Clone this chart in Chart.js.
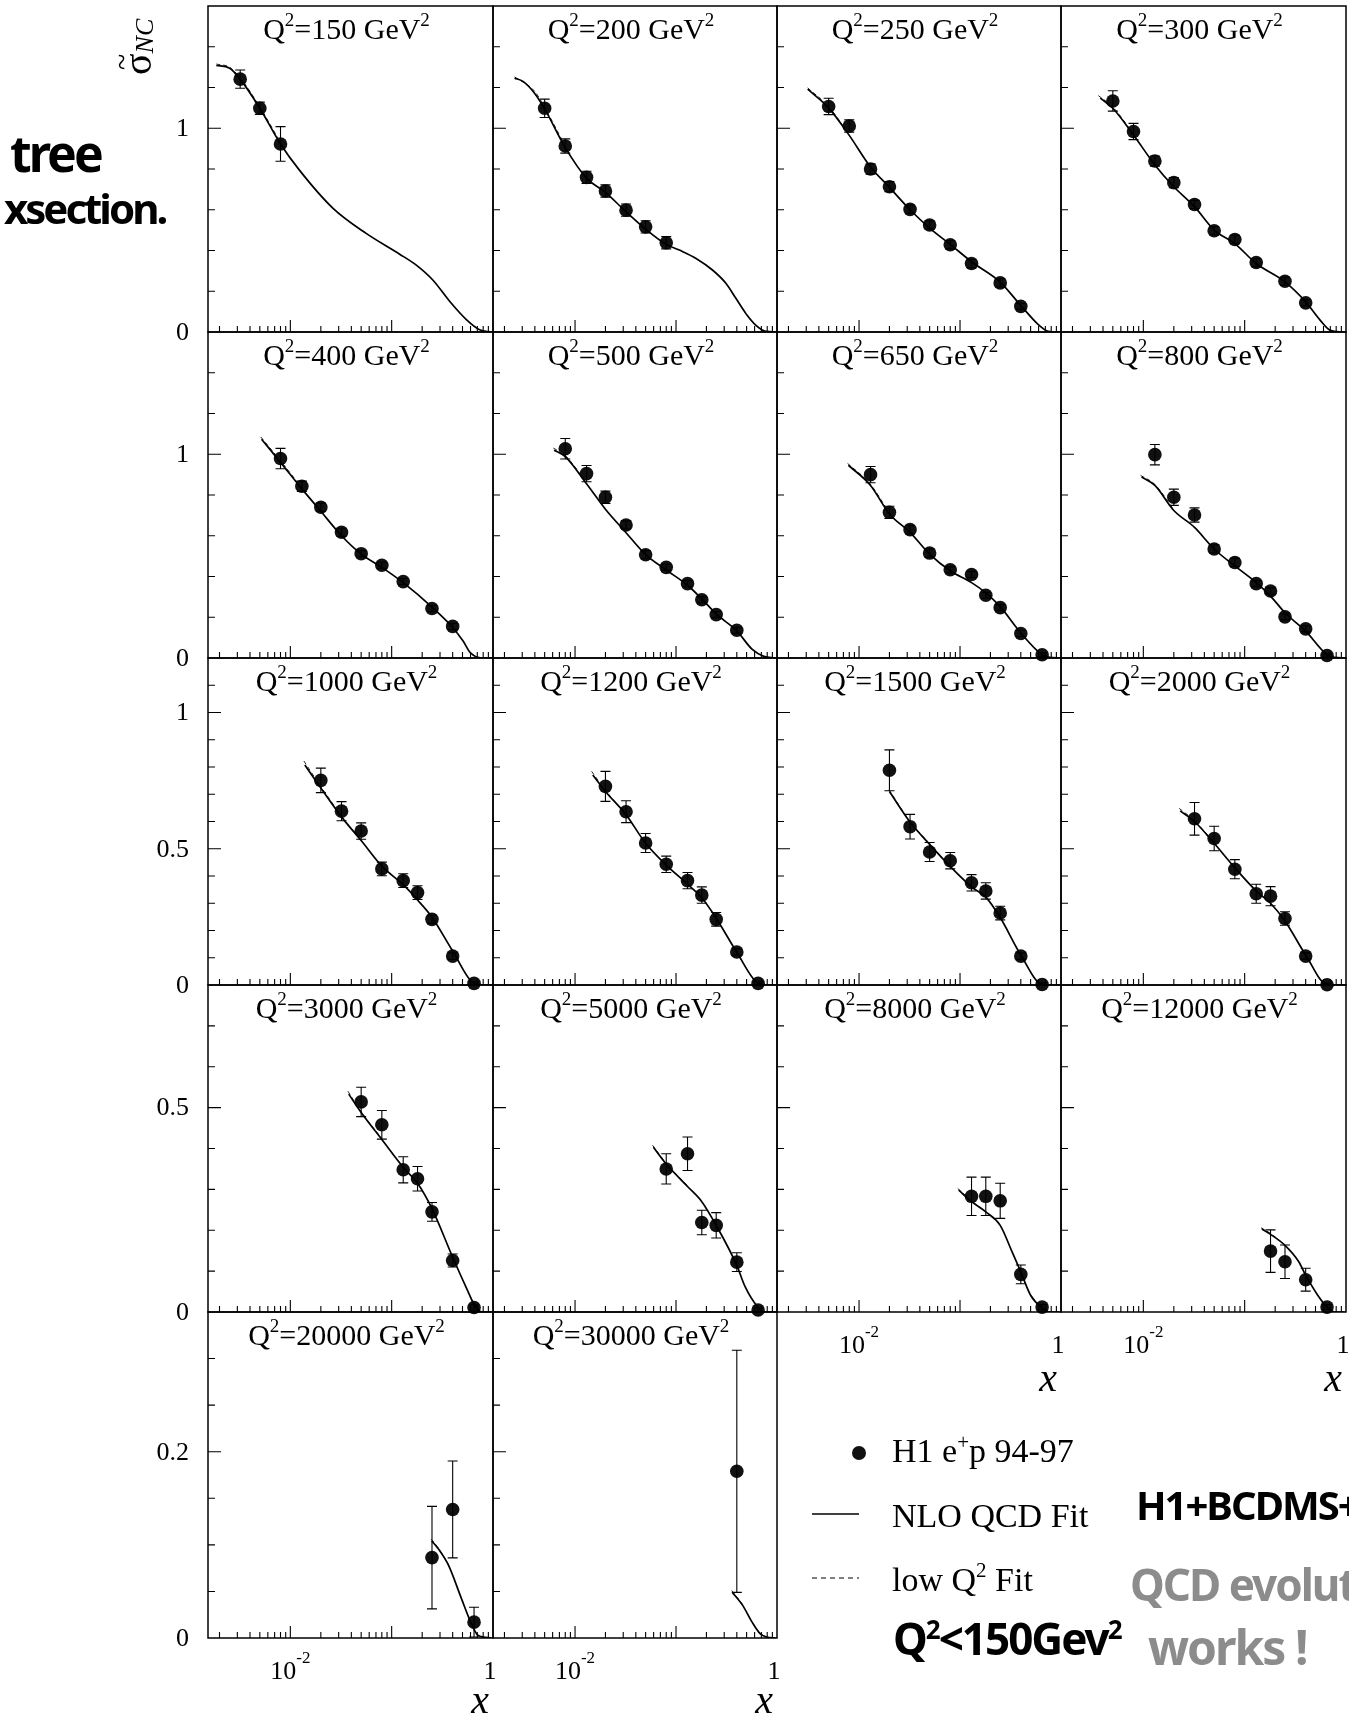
<!DOCTYPE html>
<html><head><meta charset="utf-8">
<script src="https://cdn.jsdelivr.net/npm/chart.js"></script>
<style>
html,body{margin:0;padding:0;background:#fff;overflow:hidden;}
#page{position:relative;width:1349px;height:1716px;overflow:hidden;background:#fff;}
#page canvas{position:absolute;}
#notes{position:absolute;left:0;top:0;}
</style></head>
<body><div id="page"></div>
<script>
// ---------------- DATA ----------------
const Q2_VALUES = ['150','200','250','300','400','500','650','800','1000','1200','1500','2000','3000','5000','8000','12000','20000','30000'];

// H1 e+p 94-97 points: x, reduced cross section, total error
const h1x_150 = [0.0032, 0.005, 0.008];
const h1y_150 = [1.241, 1.098, 0.923];
const h1e_150 = [0.045, 0.03, 0.085];
const fitx_150 = [0.00186, 0.00252, 0.0032, 0.005, 0.008, 0.0124, 0.0264, 0.056, 0.12, 0.175, 0.256, 0.373, 0.546, 0.738, 0.964];
const fity_150 = [1.308, 1.295, 1.241, 1.098, 0.923, 0.792, 0.607, 0.484, 0.382, 0.328, 0.254, 0.151, 0.061, 0.011, 0.0];
const lowx_150 = [0.00186, 0.0025, 0.0032, 0.005, 0.008];
const lowy_150 = [1.315, 1.30, 1.248, 1.104, 0.93];

const h1x_200 = [0.005, 0.008, 0.013, 0.02, 0.032, 0.05, 0.08];
const h1y_200 = [1.098, 0.913, 0.759, 0.692, 0.598, 0.516, 0.438];
const h1e_200 = [0.045, 0.035, 0.03, 0.03, 0.03, 0.03, 0.03];
const fitx_200 = [0.00252, 0.00305, 0.00397, 0.005, 0.008, 0.013, 0.02, 0.032, 0.05, 0.08, 0.108, 0.158, 0.231, 0.313, 0.393, 0.493, 0.619, 0.778, 0.977];
const fity_200 = [1.246, 1.23, 1.172, 1.095, 0.905, 0.755, 0.685, 0.59, 0.505, 0.43, 0.402, 0.361, 0.303, 0.238, 0.164, 0.09, 0.033, 0.003, 0.0];
const lowx_200 = [0.00252, 0.004, 0.005, 0.008];
const lowy_200 = [1.252, 1.18, 1.102, 0.912];

const h1x_250 = [0.005, 0.008, 0.013, 0.02, 0.032, 0.05, 0.08, 0.13, 0.25, 0.40];
const h1y_250 = [1.107, 1.011, 0.80, 0.713, 0.602, 0.525, 0.428, 0.336, 0.241, 0.126];
const h1e_250 = [0.04, 0.03, 0.025, 0.025, 0.02, 0.02, 0.02, 0.02, 0.02, 0.015];
const fitx_250 = [0.0031, 0.005, 0.008, 0.013, 0.02, 0.032, 0.05, 0.08, 0.13, 0.25, 0.40, 0.60, 0.75, 0.97];
const fity_250 = [1.192, 1.10, 0.965, 0.81, 0.71, 0.60, 0.51, 0.43, 0.345, 0.245, 0.13, 0.035, 0.003, 0.0];
const lowx_250 = [0.0031, 0.005, 0.008];
const lowy_250 = [1.198, 1.106, 0.97];

const h1x_300 = [0.005, 0.008, 0.013, 0.02, 0.032, 0.05, 0.08, 0.13, 0.25, 0.40];
const h1y_300 = [1.134, 0.984, 0.839, 0.733, 0.626, 0.497, 0.454, 0.341, 0.249, 0.143];
const h1e_300 = [0.05, 0.04, 0.025, 0.025, 0.02, 0.02, 0.02, 0.02, 0.02, 0.015];
const fitx_300 = [0.00376, 0.005, 0.008, 0.013, 0.02, 0.032, 0.05, 0.08, 0.13, 0.25, 0.40, 0.558, 0.70, 0.93];
const fity_300 = [1.148, 1.098, 0.967, 0.82, 0.713, 0.615, 0.50, 0.434, 0.336, 0.246, 0.148, 0.057, 0.008, 0.0];
const lowx_300 = [0.0036, 0.005, 0.008];
const lowy_300 = [1.16, 1.104, 0.972];

const h1x_400 = [0.008, 0.013, 0.02, 0.032, 0.05, 0.08, 0.13, 0.25, 0.40];
const h1y_400 = [0.979, 0.843, 0.740, 0.617, 0.512, 0.455, 0.375, 0.243, 0.155];
const h1e_400 = [0.05, 0.025, 0.02, 0.02, 0.015, 0.015, 0.015, 0.015, 0.015];
const fitx_400 = [0.0052, 0.008, 0.013, 0.02, 0.032, 0.05, 0.08, 0.13, 0.25, 0.40, 0.507, 0.60, 0.78, 0.97];
const fity_400 = [1.074, 0.96, 0.83, 0.72, 0.60, 0.51, 0.445, 0.37, 0.25, 0.15, 0.083, 0.025, 0.0, 0.0];
const lowx_400 = [0.0051, 0.008, 0.013];
const lowy_400 = [1.085, 0.968, 0.835];

const h1x_500 = [0.008, 0.013, 0.02, 0.032, 0.05, 0.08, 0.13, 0.18, 0.25, 0.40];
const h1y_500 = [1.027, 0.905, 0.789, 0.653, 0.507, 0.445, 0.365, 0.286, 0.213, 0.136];
const h1e_500 = [0.05, 0.04, 0.03, 0.02, 0.02, 0.015, 0.015, 0.015, 0.015, 0.015];
const fitx_500 = [0.0062, 0.008, 0.013, 0.02, 0.032, 0.05, 0.08, 0.13, 0.18, 0.25, 0.40, 0.569, 0.74, 0.96];
const fity_500 = [1.02, 0.988, 0.855, 0.73, 0.615, 0.507, 0.432, 0.357, 0.29, 0.216, 0.133, 0.042, 0.008, 0.0];
const lowx_500 = [0.0061, 0.008, 0.013];
const lowy_500 = [1.03, 0.994, 0.86];

const h1x_650 = [0.013, 0.02, 0.032, 0.05, 0.08, 0.13, 0.18, 0.25, 0.40, 0.65];
const h1y_650 = [0.90, 0.715, 0.63, 0.515, 0.433, 0.41, 0.308, 0.247, 0.12, 0.016];
const h1e_650 = [0.04, 0.03, 0.02, 0.02, 0.015, 0.015, 0.015, 0.015, 0.015, 0.01];
const fitx_650 = [0.00785, 0.013, 0.02, 0.032, 0.05, 0.08, 0.13, 0.18, 0.25, 0.40, 0.65, 0.77, 0.97];
const fity_650 = [0.946, 0.847, 0.707, 0.617, 0.51, 0.428, 0.37, 0.32, 0.252, 0.123, 0.016, 0.003, 0.0];
const lowx_650 = [0.0077, 0.013, 0.02];
const lowy_650 = [0.955, 0.852, 0.71];

const h1x_800 = [0.013, 0.02, 0.032, 0.05, 0.08, 0.13, 0.18, 0.25, 0.40, 0.65];
const h1y_800 = [0.998, 0.789, 0.702, 0.535, 0.469, 0.365, 0.329, 0.202, 0.143, 0.012];
const h1e_800 = [0.05, 0.04, 0.035, 0.02, 0.02, 0.015, 0.015, 0.015, 0.015, 0.008];
const fitx_800 = [0.0096, 0.013, 0.02, 0.032, 0.05, 0.08, 0.13, 0.18, 0.25, 0.40, 0.65, 0.77, 0.97];
const fity_800 = [0.888, 0.847, 0.724, 0.641, 0.535, 0.452, 0.37, 0.304, 0.222, 0.132, 0.016, 0.003, 0.0];
const lowx_800 = [0.0094, 0.013, 0.02];
const lowy_800 = [0.896, 0.852, 0.727];

const h1x_1000 = [0.02, 0.032, 0.05, 0.08, 0.13, 0.18, 0.25, 0.40, 0.65];
const h1y_1000 = [0.751, 0.638, 0.565, 0.426, 0.383, 0.339, 0.241, 0.106, 0.006];
const h1e_1000 = [0.045, 0.035, 0.03, 0.025, 0.025, 0.025, 0.015, 0.012, 0.006];
const fitx_1000 = [0.0139, 0.02, 0.032, 0.05, 0.08, 0.13, 0.18, 0.25, 0.40, 0.65, 0.83, 0.97];
const fity_1000 = [0.807, 0.723, 0.617, 0.53, 0.436, 0.368, 0.312, 0.249, 0.125, 0.006, 0.0, 0.0];
const lowx_1000 = [0.0136, 0.02, 0.032];
const lowy_1000 = [0.822, 0.728, 0.62];

const h1x_1200 = [0.02, 0.032, 0.05, 0.08, 0.13, 0.18, 0.25, 0.40, 0.65];
const h1y_1200 = [0.729, 0.636, 0.521, 0.443, 0.383, 0.330, 0.241, 0.121, 0.006];
const h1e_1200 = [0.055, 0.04, 0.035, 0.03, 0.03, 0.03, 0.025, 0.012, 0.006];
const fitx_1200 = [0.015, 0.02, 0.032, 0.05, 0.08, 0.13, 0.18, 0.25, 0.40, 0.65, 0.80, 0.97];
const fity_1200 = [0.771, 0.71, 0.625, 0.52, 0.44, 0.37, 0.32, 0.245, 0.12, 0.006, 0.0, 0.0];
const lowx_1200 = [0.0146, 0.02, 0.032];
const lowy_1200 = [0.784, 0.714, 0.627];

const h1x_1500 = [0.02, 0.032, 0.05, 0.08, 0.13, 0.18, 0.25, 0.40, 0.65];
const h1y_1500 = [0.788, 0.581, 0.488, 0.456, 0.375, 0.345, 0.264, 0.106, 0.002];
const h1e_1500 = [0.075, 0.045, 0.035, 0.03, 0.03, 0.03, 0.025, 0.012, 0.006];
const fitx_1500 = [0.02, 0.032, 0.05, 0.08, 0.13, 0.18, 0.25, 0.40, 0.65, 0.80, 0.97];
const fity_1500 = [0.71, 0.598, 0.516, 0.435, 0.36, 0.3225, 0.2475, 0.11, 0.002, 0.0, 0.0];
const lowx_1500 = [0.0198, 0.032, 0.05];
const lowy_1500 = [0.716, 0.60, 0.518];

const h1x_2000 = [0.032, 0.05, 0.08, 0.13, 0.18, 0.25, 0.40, 0.65];
const h1y_2000 = [0.61, 0.5375, 0.425, 0.335, 0.326, 0.244, 0.106, 0.001];
const h1e_2000 = [0.06, 0.045, 0.035, 0.035, 0.035, 0.025, 0.012, 0.006];
const fitx_2000 = [0.0231, 0.032, 0.05, 0.08, 0.13, 0.18, 0.25, 0.40, 0.65, 0.80, 0.97];
const fity_2000 = [0.639, 0.60, 0.52, 0.43, 0.345, 0.30, 0.235, 0.11, 0.001, 0.0, 0.0];
const lowx_2000 = [0.0226, 0.032, 0.05];
const lowy_2000 = [0.648, 0.603, 0.522];

const h1x_3000 = [0.05, 0.08, 0.13, 0.18, 0.25, 0.40, 0.65];
const h1y_3000 = [0.514, 0.458, 0.348, 0.326, 0.245, 0.126, 0.011];
const h1e_3000 = [0.036, 0.035, 0.032, 0.03, 0.023, 0.016, 0.006];
const fitx_3000 = [0.0377, 0.05, 0.08, 0.13, 0.18, 0.25, 0.40, 0.553, 0.65, 0.78, 0.97];
const fity_3000 = [0.533, 0.488, 0.422, 0.354, 0.315, 0.253, 0.134, 0.056, 0.019, 0.0, 0.0];
const lowx_3000 = [0.037, 0.05, 0.08];
const lowy_3000 = [0.54, 0.49, 0.424];

const h1x_5000 = [0.08, 0.13, 0.18, 0.25, 0.40, 0.65];
const h1y_5000 = [0.35, 0.387, 0.219, 0.212, 0.122, 0.005];
const h1e_5000 = [0.037, 0.041, 0.03, 0.031, 0.023, 0.005];
const fitx_5000 = [0.0597, 0.08, 0.13, 0.18, 0.25, 0.40, 0.479, 0.65, 0.74, 0.97];
const fity_5000 = [0.403, 0.362, 0.307, 0.27, 0.212, 0.114, 0.064, 0.011, 0.0, 0.0];
const lowx_5000 = [0.0585, 0.08, 0.13];
const lowy_5000 = [0.408, 0.364, 0.309];

const h1x_8000 = [0.13, 0.18, 0.25, 0.40, 0.65];
const h1y_8000 = [0.283, 0.283, 0.272, 0.092, 0.012];
const h1e_8000 = [0.047, 0.047, 0.043, 0.023, 0.006];
const fitx_8000 = [0.097, 0.13, 0.18, 0.25, 0.328, 0.40, 0.50, 0.65, 0.77, 0.97];
const fity_8000 = [0.298, 0.27, 0.245, 0.212, 0.147, 0.098, 0.041, 0.01, 0.0, 0.0];
const lowx_8000 = [0.095, 0.13, 0.18];
const lowy_8000 = [0.302, 0.272, 0.246];

const h1x_12000 = [0.18, 0.25, 0.40, 0.65];
const h1y_12000 = [0.149, 0.123, 0.079, 0.012];
const h1e_12000 = [0.052, 0.041, 0.028, 0.006];
const fitx_12000 = [0.148, 0.18, 0.25, 0.342, 0.40, 0.526, 0.65, 0.77, 0.97];
const fity_12000 = [0.203, 0.19, 0.163, 0.123, 0.09, 0.041, 0.012, 0.0, 0.0];
const lowx_12000 = [0.145, 0.18, 0.25];
const lowy_12000 = [0.206, 0.192, 0.164];

const h1x_20000 = [0.25, 0.40, 0.65];
const h1y_20000 = [0.0863, 0.138, 0.017];
const h1e_20000 = [0.055, 0.052, 0.016];
const fitx_20000 = [0.249, 0.283, 0.368, 0.478, 0.62, 0.71, 0.97];
const fity_20000 = [0.104, 0.097, 0.077, 0.045, 0.014, 0.003, 0.0];
const lowx_20000 = [0.246, 0.283, 0.368];
const lowy_20000 = [0.106, 0.098, 0.078];

const h1x_30000 = [0.40];
const h1y_30000 = [0.179];
const h1e_30000 = [0.13];
const fitx_30000 = [0.361, 0.457, 0.567, 0.676, 0.79, 0.97];
const fity_30000 = [0.049, 0.035, 0.017, 0.005, 0.001, 0.0];
const lowx_30000 = [0.357, 0.457];
const lowy_30000 = [0.051, 0.036];

// axis ranges and ticks, per panel row
const X_MIN = 0.00154, X_MAX = 1.0;
const X_TICKS = [0.002,0.003,0.004,0.005,0.006,0.007,0.008,0.009,0.01,0.02,0.03,0.04,0.05,0.06,0.07,0.08,0.09,0.1,0.2,0.3,0.4,0.5,0.6,0.7,0.8,0.9];
const X_MAJOR = [0.01, 0.1];
const Y_MAX = [1.6, 1.6, 1.2, 0.8, 0.35];
const Y_TICKS = [
  [0.2,0.4,0.6,0.8,1.0,1.2,1.4],
  [0.2,0.4,0.6,0.8,1.0,1.2,1.4],
  [0.1,0.2,0.3,0.4,0.5,0.6,0.7,0.8,0.9,1.0,1.1],
  [0.1,0.2,0.3,0.4,0.5,0.6,0.7],
  [0.05,0.1,0.15,0.2,0.25,0.3]
];
const Y_MAJOR = [[1.0],[1.0],[0.5,1.0],[0.5],[0.2]];
const Y_LABELS = [[0,1],[0,1],[0,0.5,1],[0,0.5],[0,0.2]];

// ---------------- LAYOUT ----------------
const COL_EDGES = [208, 493, 777, 1061, 1346];
const ROW_EDGES = [6, 332, 658, 985, 1312, 1638];
const PAD = {left: 75, right: 12, top: 8, bottom: 92};
const BOTTOM_LABEL_PANELS = [14, 15, 16, 17];
const SERIF = '"Liberation Serif", "Times New Roman", serif';

function drawParts(ctx, parts, x, base, fs, ss, raise, align) {
  const widths = parts.map(([t, s]) => { ctx.font = (s ? ss : fs) + 'px ' + SERIF; return ctx.measureText(t).width; });
  const total = widths.reduce((a, b) => a + b, 0);
  let cx = align === 'center' ? x - total / 2 : x;
  ctx.textAlign = 'left'; ctx.textBaseline = 'alphabetic';
  parts.forEach(([t, s], i) => {
    ctx.font = (s ? ss : fs) + 'px ' + SERIF;
    ctx.fillText(t, cx, s ? base - raise : base);
    cx += widths[i];
  });
}

function makeFrame(p) {
  return {
    id: 'frame' + p.i,
    afterDatasetsDraw(chart) {
      const {ctx} = chart; const xs = chart.scales.x, ys = chart.scales.y;
      ctx.save();
      ctx.strokeStyle = '#000'; ctx.lineWidth = 1.1;
      ctx.beginPath();
      p.hx.forEach((xv, j) => {
        const px = xs.getPixelForValue(xv);
        const yt = ys.getPixelForValue(p.hy[j] + p.he[j]);
        const yb = ys.getPixelForValue(Math.max(0, p.hy[j] - p.he[j]));
        ctx.moveTo(px, yt); ctx.lineTo(px, yb);
        ctx.moveTo(px - 5, yt); ctx.lineTo(px + 5, yt);
        ctx.moveTo(px - 5, yb); ctx.lineTo(px + 5, yb);
      });
      ctx.stroke();
      ctx.restore();
    },
    afterDraw(chart) {
      const {ctx, chartArea: a} = chart; const xs = chart.scales.x, ys = chart.scales.y;
      ctx.save();
      ctx.fillStyle = '#000'; ctx.strokeStyle = '#000';
      ctx.lineWidth = 1.5;
      ctx.strokeRect(a.left, a.top, a.right - a.left, a.bottom - a.top);
      ctx.lineWidth = 1.1;
      ctx.beginPath();
      Y_TICKS[p.row].forEach(v => {
        const py = ys.getPixelForValue(v);
        const len = Y_MAJOR[p.row].includes(v) ? 13 : 7;
        ctx.moveTo(a.left, py); ctx.lineTo(a.left + len, py);
      });
      X_TICKS.forEach(v => {
        const px = xs.getPixelForValue(v);
        const len = X_MAJOR.includes(v) ? 12 : 6;
        ctx.moveTo(px, a.bottom); ctx.lineTo(px, a.bottom - len);
      });
      ctx.stroke();
      // panel title
      drawParts(ctx, [['Q', 0], ['2', 1], ['=' + p.q + ' GeV', 0], ['2', 1]],
        (a.left + a.right) / 2 - 4, a.top + 33, 30, 19, 13, 'center');
      // y tick labels
      if (p.col === 0) {
        ctx.font = '26px ' + SERIF; ctx.textAlign = 'right'; ctx.textBaseline = 'middle';
        Y_LABELS[p.row].forEach(v => ctx.fillText(String(v), a.left - 19, ys.getPixelForValue(v) + 1));
      }
      // x tick labels + axis title
      if (BOTTOM_LABEL_PANELS.includes(p.i)) {
        drawParts(ctx, [['10', 0], ['-2', 1]], xs.getPixelForValue(0.01), a.bottom + 41, 26, 17, 16, 'center');
        drawParts(ctx, [['1', 0]], xs.getPixelForValue(1) - 3, a.bottom + 41, 26, 17, 16, 'center');
        ctx.font = 'italic 40px ' + SERIF; ctx.textAlign = 'right'; ctx.textBaseline = 'alphabetic';
        ctx.fillText('x', a.right - 4, a.bottom + (p.row === 4 ? 75 : 79));
      }
      ctx.restore();
    }
  };
}

const SOURCES = {
  '150': [h1x_150, h1y_150, h1e_150, fitx_150, fity_150, lowx_150, lowy_150],
  '200': [h1x_200, h1y_200, h1e_200, fitx_200, fity_200, lowx_200, lowy_200],
  '250': [h1x_250, h1y_250, h1e_250, fitx_250, fity_250, lowx_250, lowy_250],
  '300': [h1x_300, h1y_300, h1e_300, fitx_300, fity_300, lowx_300, lowy_300],
  '400': [h1x_400, h1y_400, h1e_400, fitx_400, fity_400, lowx_400, lowy_400],
  '500': [h1x_500, h1y_500, h1e_500, fitx_500, fity_500, lowx_500, lowy_500],
  '650': [h1x_650, h1y_650, h1e_650, fitx_650, fity_650, lowx_650, lowy_650],
  '800': [h1x_800, h1y_800, h1e_800, fitx_800, fity_800, lowx_800, lowy_800],
  '1000': [h1x_1000, h1y_1000, h1e_1000, fitx_1000, fity_1000, lowx_1000, lowy_1000],
  '1200': [h1x_1200, h1y_1200, h1e_1200, fitx_1200, fity_1200, lowx_1200, lowy_1200],
  '1500': [h1x_1500, h1y_1500, h1e_1500, fitx_1500, fity_1500, lowx_1500, lowy_1500],
  '2000': [h1x_2000, h1y_2000, h1e_2000, fitx_2000, fity_2000, lowx_2000, lowy_2000],
  '3000': [h1x_3000, h1y_3000, h1e_3000, fitx_3000, fity_3000, lowx_3000, lowy_3000],
  '5000': [h1x_5000, h1y_5000, h1e_5000, fitx_5000, fity_5000, lowx_5000, lowy_5000],
  '8000': [h1x_8000, h1y_8000, h1e_8000, fitx_8000, fity_8000, lowx_8000, lowy_8000],
  '12000': [h1x_12000, h1y_12000, h1e_12000, fitx_12000, fity_12000, lowx_12000, lowy_12000],
  '20000': [h1x_20000, h1y_20000, h1e_20000, fitx_20000, fity_20000, lowx_20000, lowy_20000],
  '30000': [h1x_30000, h1y_30000, h1e_30000, fitx_30000, fity_30000, lowx_30000, lowy_30000]
};

const page = document.getElementById('page');
Q2_VALUES.forEach((q, i) => {
  const [hx, hy, he, fx, fy, lx, ly] = SOURCES[q];
  const row = Math.floor(i / 4), col = i % 4;
  const p = {i, q, row, col, hx, hy, he};
  const w = COL_EDGES[col + 1] - COL_EDGES[col], h = ROW_EDGES[row + 1] - ROW_EDGES[row];
  const cv = document.createElement('canvas');
  const W = w + PAD.left + PAD.right, H = h + PAD.top + PAD.bottom;
  cv.width = W; cv.height = H;
  cv.style.width = W + 'px'; cv.style.height = H + 'px';
  cv.style.left = (COL_EDGES[col] - PAD.left) + 'px';
  cv.style.top = (ROW_EDGES[row] - PAD.top) + 'px';
  page.appendChild(cv);
  new Chart(cv, {
    type: 'scatter',
    data: {
      datasets: [
        {type: 'line', label: 'NLO QCD Fit', data: fx.map((x, j) => ({x, y: fy[j]})),
         borderColor: '#000', borderWidth: 1.7, pointRadius: 0, fill: false, cubicInterpolationMode: 'monotone'},
        {type: 'line', label: 'low Q2 Fit', data: lx.map((x, j) => ({x, y: ly[j]})),
         borderColor: '#222', borderWidth: 1, borderDash: [4, 3], pointRadius: 0, fill: false, cubicInterpolationMode: 'monotone'},
        {type: 'scatter', label: 'H1 e+p 94-97', data: hx.map((x, j) => ({x, y: hy[j]})),
         backgroundColor: '#111', borderColor: '#000', borderWidth: 0, pointRadius: 6.8, clip: false}
      ]
    },
    options: {
      responsive: false, maintainAspectRatio: false, animation: false, devicePixelRatio: 1, events: [],
      layout: {padding: {left: PAD.left, right: PAD.right, top: PAD.top, bottom: PAD.bottom}},
      plugins: {legend: {display: false}, tooltip: {enabled: false}, title: {display: false}},
      scales: {
        x: {type: 'logarithmic', min: X_MIN, max: X_MAX, display: false},
        y: {type: 'linear', min: 0, max: Y_MAX[row], display: false}
      }
    },
    plugins: [makeFrame(p)]
  });
});
</script>
<svg id="notes" width="1349" height="1716" xmlns="http://www.w3.org/2000/svg">
  <!-- y axis title: sigma-tilde with subscript NC, rotated -->
  <text transform="translate(151,75) rotate(-90)" font-family="Liberation Serif" font-size="40" fill="#000">σ<tspan font-size="26" font-style="italic" baseline-shift="-2">NC</tspan></text>
  <text transform="translate(132,70) rotate(-90)" font-family="Liberation Serif" font-size="30" fill="#000">~</text>
  <!-- legend -->
  <circle cx="859" cy="1453" r="7" fill="#111"/>
  <text x="892" y="1462" font-family="Liberation Serif" font-size="34" fill="#000">H1 e<tspan font-size="21" baseline-shift="13">+</tspan>p 94-97</text>
  <line x1="812" y1="1514" x2="859" y2="1514" stroke="#000" stroke-width="1.6"/>
  <text x="892" y="1527" font-family="Liberation Serif" font-size="34" fill="#000">NLO QCD Fit</text>
  <line x1="812" y1="1578" x2="859" y2="1578" stroke="#000" stroke-width="1.1" stroke-dasharray="5 4"/>
  <text x="892" y="1591" font-family="Liberation Serif" font-size="34" fill="#000">low Q<tspan font-size="21" baseline-shift="14">2</tspan> Fit</text>
  <!-- handwritten notes -->
  <text x="10" y="172" font-family="Noto Sans" font-weight="700" font-size="50" letter-spacing="-3" fill="#000">tree</text>
  <text x="4" y="224" font-family="Noto Sans" font-weight="700" font-size="42" letter-spacing="-3" fill="#000">xsection.</text>
  <text x="1136" y="1520" font-family="Noto Sans" font-weight="700" font-size="40" letter-spacing="-2" fill="#000">H1+BCDMS+</text>
  <text x="893" y="1655" font-family="Noto Sans" font-weight="700" font-size="44" letter-spacing="-2" fill="#000">Q<tspan font-size="26" baseline-shift="16">2</tspan>&lt;150Gev<tspan font-size="26" baseline-shift="16">2</tspan></text>
  <text x="1130" y="1601" font-family="Noto Sans" font-weight="700" font-size="44" letter-spacing="-2" fill="#8c8c8c">QCD evolution</text>
  <text x="1148" y="1665" font-family="Noto Sans" font-weight="700" font-size="48" letter-spacing="-2" fill="#8c8c8c">works !</text>
</svg>
</body></html>
